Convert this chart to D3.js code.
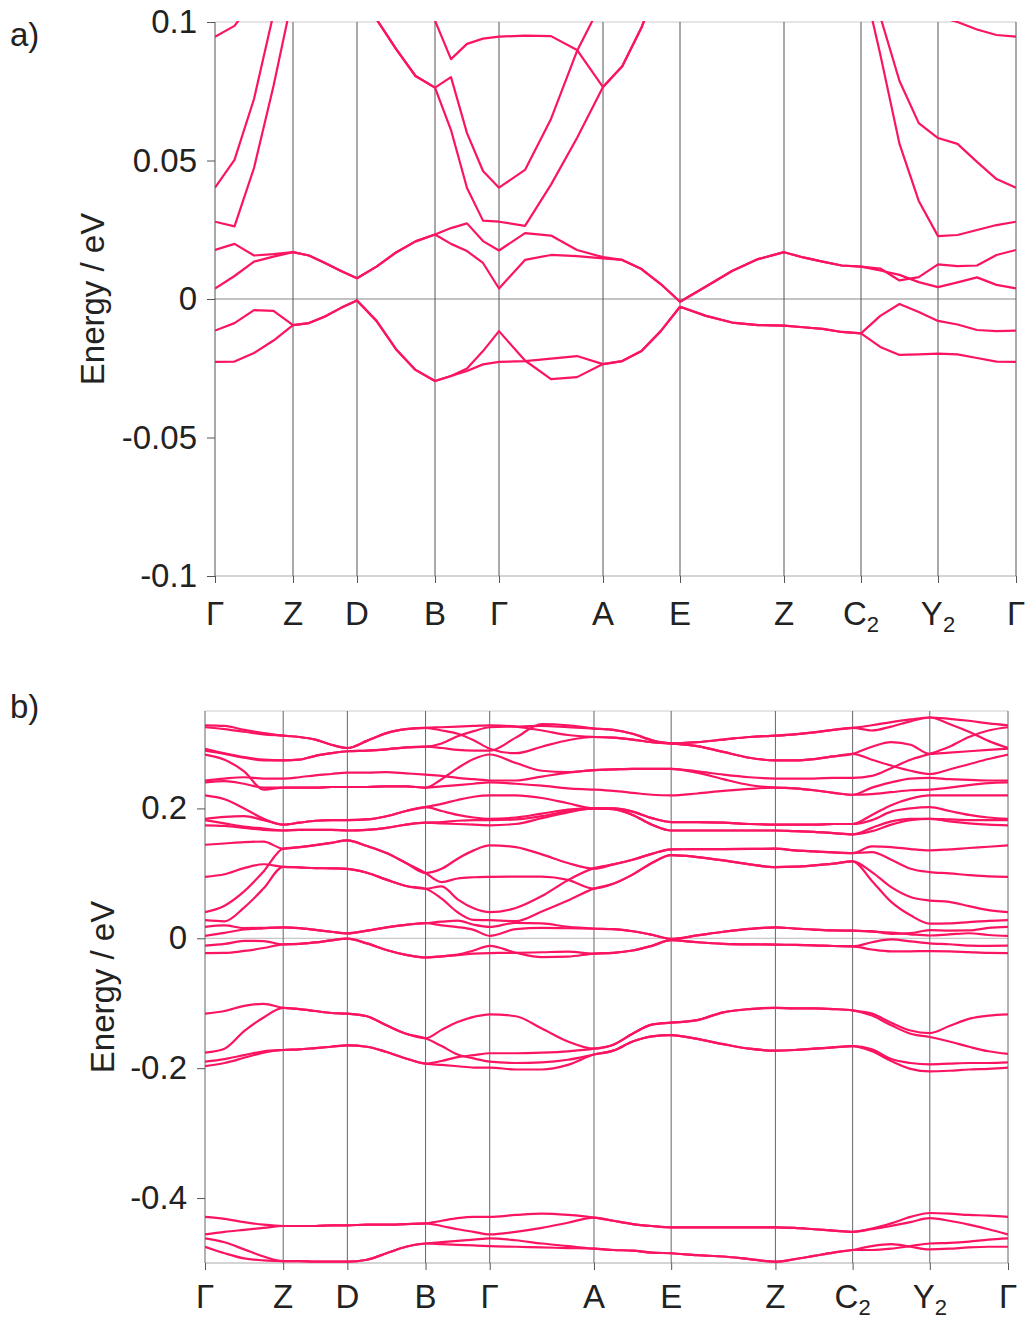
<!DOCTYPE html>
<html>
<head>
<meta charset="utf-8">
<script src="https://cdnjs.cloudflare.com/ajax/libs/d3/7.8.5/d3.min.js"></script>
<style>
body { margin: 0; background: #fff; }
text { font-family: "Liberation Sans", Arial, sans-serif; fill: #222; }
</style>
</head>
<body>
<svg id="chart" width="1025" height="1324"></svg>
<script>
// high-symmetry path
const kLabels = ['Γ', 'Z', 'D', 'B', 'Γ', 'A', 'E', 'Z', 'C2', 'Y2', 'Γ'];
const kTicks = [0, 0.78, 1.42, 2.20, 2.84, 3.88, 4.65, 5.69, 6.46, 7.23, 8.01];
// k sample points (4 per segment)
const kGrid = [0, 0.195, 0.39, 0.585, 0.78, 0.94, 1.10, 1.26, 1.42, 1.615, 1.81, 2.005, 2.20,
	2.36, 2.52, 2.68, 2.84, 3.10, 3.36, 3.62, 3.88, 4.0725, 4.265, 4.4575, 4.65, 4.91, 5.17, 5.43, 5.69,
	5.8825, 6.075, 6.2675, 6.46, 6.6525, 6.845, 7.0375, 7.23, 7.425, 7.62, 7.815, 8.01];

// band energies (eV) at kGrid
const l1 = [-0.429,-0.432,-0.437,-0.441,-0.443, -0.443,-0.443,-0.442,-0.442, -0.441,-0.441,-0.440,-0.439, -0.435,-0.431,-0.429,-0.429, -0.426,-0.424,-0.426,-0.430, -0.435,-0.440,-0.443,-0.445, -0.445,-0.445,-0.445,-0.445, -0.446,-0.448,-0.450,-0.452, -0.447,-0.439,-0.429,-0.423, -0.424,-0.426,-0.427,-0.429];
const l2 = [-0.456,-0.452,-0.449,-0.446,-0.443, -0.443,-0.443,-0.442,-0.442, -0.441,-0.441,-0.440,-0.439, -0.443,-0.448,-0.452,-0.456, -0.452,-0.446,-0.438,-0.430, -0.435,-0.440,-0.443,-0.445, -0.445,-0.445,-0.445,-0.445, -0.446,-0.448,-0.450,-0.452, -0.448,-0.443,-0.437,-0.431, -0.435,-0.441,-0.448,-0.456];
const l3 = [-0.462,-0.468,-0.479,-0.490,-0.497, -0.497,-0.498,-0.498,-0.498, -0.495,-0.485,-0.475,-0.470, -0.468,-0.466,-0.464,-0.462, -0.465,-0.470,-0.474,-0.478, -0.480,-0.481,-0.484,-0.485, -0.488,-0.490,-0.494,-0.498, -0.494,-0.489,-0.484,-0.480, -0.474,-0.471,-0.475,-0.479, -0.478,-0.476,-0.475,-0.475];
const l4 = [-0.475,-0.485,-0.493,-0.496,-0.497, -0.497,-0.498,-0.498,-0.498, -0.495,-0.485,-0.475,-0.470, -0.471,-0.472,-0.473,-0.474, -0.475,-0.476,-0.477,-0.478, -0.480,-0.481,-0.484,-0.485, -0.488,-0.490,-0.494,-0.498, -0.494,-0.489,-0.484,-0.480, -0.480,-0.478,-0.474,-0.470, -0.469,-0.467,-0.464,-0.462];

const m1 = [-0.116,-0.112,-0.104,-0.101,-0.107, -0.109,-0.112,-0.115,-0.116, -0.120,-0.134,-0.147,-0.154, -0.141,-0.129,-0.121,-0.117, -0.120,-0.139,-0.159,-0.170, -0.164,-0.147,-0.133,-0.130, -0.126,-0.114,-0.109,-0.107, -0.108,-0.108,-0.109,-0.111, -0.116,-0.130,-0.142,-0.146, -0.135,-0.124,-0.119,-0.117];
const m2 = [-0.176,-0.170,-0.143,-0.122,-0.107, -0.109,-0.112,-0.115,-0.116, -0.120,-0.134,-0.147,-0.154, -0.166,-0.179,-0.185,-0.190, -0.192,-0.191,-0.187,-0.179, -0.173,-0.159,-0.151,-0.149, -0.155,-0.163,-0.170,-0.173, -0.172,-0.170,-0.168,-0.166, -0.171,-0.186,-0.192,-0.194, -0.193,-0.192,-0.192,-0.191];
const m3 = [-0.190,-0.186,-0.180,-0.174,-0.172, -0.171,-0.169,-0.167,-0.165, -0.167,-0.175,-0.185,-0.193, -0.189,-0.183,-0.180,-0.177, -0.177,-0.176,-0.174,-0.170, -0.164,-0.147,-0.133,-0.130, -0.126,-0.114,-0.109,-0.107, -0.108,-0.108,-0.109,-0.111, -0.119,-0.134,-0.147,-0.152, -0.159,-0.167,-0.174,-0.178];
const m4 = [-0.197,-0.192,-0.184,-0.176,-0.172, -0.171,-0.169,-0.167,-0.165, -0.167,-0.175,-0.185,-0.193, -0.195,-0.197,-0.199,-0.199, -0.202,-0.202,-0.195,-0.179, -0.173,-0.159,-0.151,-0.149, -0.155,-0.163,-0.170,-0.173, -0.172,-0.170,-0.168,-0.166, -0.174,-0.189,-0.201,-0.205, -0.204,-0.202,-0.201,-0.199];

const vA = [-0.0114,-0.0087,-0.0040,-0.0043,-0.0094, -0.0087,-0.0063,-0.0032,-0.0005, -0.0079,-0.0181,-0.0256,-0.0296, -0.0278,-0.0251,-0.0188,-0.0116, -0.0222,-0.0289,-0.0282,-0.0235, -0.0224,-0.0188,-0.0116,-0.0028, -0.0061,-0.0085,-0.0094,-0.0096, -0.0102,-0.0108,-0.0119,-0.0124, -0.0061,-0.0018,-0.0047,-0.0079, -0.0092,-0.0112,-0.0116,-0.0114];
const vB = [-0.0227,-0.0226,-0.0195,-0.0150,-0.0094, -0.0087,-0.0063,-0.0032,-0.0005, -0.0079,-0.0181,-0.0256,-0.0296, -0.0278,-0.0260,-0.0236,-0.0227, -0.0224,-0.0215,-0.0206,-0.0235, -0.0224,-0.0188,-0.0116,-0.0028, -0.0061,-0.0085,-0.0094,-0.0096, -0.0102,-0.0108,-0.0119,-0.0124, -0.0173,-0.0202,-0.0200,-0.0197, -0.0200,-0.0213,-0.0226,-0.0227];
const cA = [0.0038,0.0083,0.0135,0.0153,0.0169, 0.0157,0.0130,0.0101,0.0075, 0.0117,0.0168,0.0208,0.0233, 0.0199,0.0173,0.0130,0.0038, 0.0141,0.0159,0.0155,0.0147, 0.0141,0.0108,0.0054,-0.0010, 0.0045,0.0101,0.0144,0.0169, 0.0150,0.0135,0.0121,0.0117, 0.0103,0.0087,0.0061,0.0043, 0.0060,0.0078,0.0051,0.0038];
const cB = [0.0177,0.0199,0.0157,0.0162,0.0169, 0.0157,0.0130,0.0101,0.0075, 0.0117,0.0168,0.0208,0.0233, 0.0256,0.0273,0.0209,0.0175, 0.0238,0.0229,0.0177,0.0151, 0.0141,0.0108,0.0054,-0.0010, 0.0045,0.0101,0.0144,0.0169, 0.0150,0.0135,0.0121,0.0117, 0.0110,0.0067,0.0079,0.0125, 0.0119,0.0121,0.0159,0.0177];
const cC = [0.0279,0.0262,0.0473,0.0769,0.110, 0.1092,0.108,0.1077,0.107, 0.101,0.0903,0.0805,0.0763, 0.0610,0.0401,0.0283,0.0279, 0.0264,0.0413,0.0581,0.0765, 0.084,0.098,0.116,0.128, 0.1251,0.120,0.1138,0.1097, 0.1103,0.1123,0.1149,0.1185, 0.102,0.0787,0.0635,0.0581, 0.0560,0.0495,0.0433,0.0402];
const cD = [0.0402,0.0502,0.0722,0.103,0.138, 0.1405,0.1436,0.147,0.1508, 0.142,0.1313,0.1159,0.1005, 0.0866,0.0921,0.0940,0.0947, 0.0951,0.0949,0.0899,0.0765, 0.084,0.098,0.116,0.128, 0.1251,0.120,0.1138,0.1097, 0.1103,0.1123,0.1149,0.1185, 0.0884,0.0560,0.0354,0.0227, 0.0231,0.0249,0.0267,0.0279];
const cE = [0.0947,0.0986,0.108,0.114,0.110, 0.1092,0.108,0.1077,0.107, 0.101,0.0903,0.0805,0.0763, 0.0801,0.0599,0.0462,0.0402, 0.0466,0.065,0.0895,0.108, 0.1138,0.121,0.130,0.137, 0.1372,0.1374,0.1377,0.138, 0.1354,0.1338,0.1323,0.1313, 0.1415,0.1405,0.1374,0.1354, 0.1369,0.139,0.141,0.1431];
const cF = [0.144,0.146,0.148,0.149,0.138, 0.1405,0.1436,0.147,0.1508, 0.142,0.1313,0.1159,0.1005, 0.107,0.1226,0.1354,0.1431, 0.1405,0.1292,0.1159,0.1072, 0.1138,0.121,0.130,0.137, 0.1372,0.1374,0.1377,0.138, 0.1354,0.1338,0.1323,0.1313, 0.1328,0.121,0.1072,0.102, 0.100,0.0973,0.0953,0.0947];

const u1 = [0.328,0.327,0.321,0.316,0.312, 0.310,0.306,0.298,0.293, 0.304,0.316,0.322,0.324, 0.325,0.326,0.327,0.328, 0.326,0.320,0.313,0.310, 0.309,0.306,0.302,0.300, 0.302,0.306,0.310,0.312, 0.314,0.317,0.321,0.324, 0.328,0.333,0.337,0.340, 0.338,0.335,0.331,0.328];
const u2 = [0.325,0.322,0.318,0.314,0.312, 0.310,0.306,0.298,0.293, 0.304,0.316,0.322,0.324, 0.320,0.315,0.305,0.292, 0.285,0.295,0.305,0.310, 0.309,0.306,0.302,0.300, 0.296,0.287,0.278,0.274, 0.274,0.276,0.280,0.284, 0.295,0.302,0.298,0.284, 0.286,0.288,0.290,0.292];
const u3 = [0.292,0.285,0.279,0.275,0.274, 0.275,0.281,0.285,0.288, 0.289,0.291,0.294,0.295, 0.300,0.311,0.319,0.325, 0.326,0.327,0.325,0.323, 0.321,0.315,0.305,0.300, 0.302,0.306,0.310,0.312, 0.314,0.317,0.321,0.324, 0.320,0.326,0.334,0.340, 0.330,0.318,0.304,0.293];
const u4 = [0.289,0.284,0.278,0.274,0.274, 0.275,0.281,0.285,0.288, 0.289,0.291,0.294,0.295, 0.293,0.290,0.289,0.289, 0.309,0.330,0.328,0.323, 0.321,0.315,0.305,0.300, 0.296,0.287,0.278,0.274, 0.274,0.276,0.280,0.284, 0.275,0.266,0.258,0.253, 0.260,0.268,0.276,0.283];
const u5 = [0.283,0.275,0.257,0.229,0.232, 0.232,0.232,0.233,0.233, 0.233,0.234,0.234,0.232, 0.245,0.262,0.276,0.283, 0.270,0.258,0.256,0.259, 0.260,0.261,0.261,0.261, 0.257,0.252,0.248,0.246, 0.246,0.246,0.247,0.247, 0.250,0.262,0.275,0.284, 0.295,0.310,0.320,0.325];
const u6 = [0.243,0.246,0.248,0.246,0.246, 0.248,0.251,0.253,0.255, 0.255,0.256,0.254,0.252, 0.250,0.247,0.245,0.243, 0.243,0.249,0.255,0.259, 0.260,0.261,0.261,0.261, 0.255,0.245,0.236,0.232, 0.231,0.228,0.224,0.221, 0.232,0.240,0.246,0.247, 0.245,0.244,0.243,0.243];
const u7 = [0.240,0.242,0.238,0.232,0.232, 0.232,0.232,0.233,0.233, 0.233,0.234,0.234,0.232, 0.234,0.236,0.238,0.240, 0.238,0.235,0.231,0.229, 0.227,0.224,0.221,0.220, 0.223,0.227,0.230,0.232, 0.231,0.228,0.224,0.221, 0.222,0.225,0.228,0.229, 0.232,0.236,0.239,0.240];
const u8 = [0.220,0.214,0.200,0.184,0.175, 0.178,0.181,0.182,0.182, 0.183,0.188,0.196,0.202, 0.207,0.213,0.218,0.220, 0.220,0.216,0.208,0.200, 0.200,0.195,0.185,0.179, 0.179,0.178,0.176,0.175, 0.175,0.175,0.176,0.176, 0.190,0.205,0.215,0.220, 0.220,0.220,0.220,0.220];
const u9 = [0.184,0.187,0.188,0.182,0.175, 0.178,0.181,0.182,0.182, 0.183,0.188,0.196,0.202, 0.196,0.190,0.186,0.184, 0.186,0.192,0.198,0.200, 0.200,0.195,0.185,0.179, 0.179,0.178,0.176,0.175, 0.175,0.175,0.176,0.176, 0.182,0.195,0.200,0.202, 0.196,0.190,0.186,0.184];
const u10 = [0.182,0.177,0.172,0.169,0.166, 0.167,0.167,0.167,0.166, 0.167,0.170,0.175,0.178, 0.179,0.181,0.182,0.182, 0.183,0.188,0.196,0.200, 0.199,0.190,0.175,0.166, 0.166,0.166,0.166,0.166, 0.165,0.164,0.162,0.160, 0.170,0.180,0.184,0.184, 0.183,0.182,0.182,0.182];
const u11 = [0.174,0.173,0.170,0.167,0.166, 0.167,0.167,0.167,0.166, 0.167,0.170,0.175,0.178, 0.177,0.176,0.175,0.174, 0.176,0.185,0.194,0.200, 0.199,0.190,0.175,0.166, 0.166,0.166,0.166,0.166, 0.165,0.164,0.162,0.160, 0.165,0.175,0.182,0.184, 0.180,0.177,0.175,0.174];

const bands = [l1, l2, l3, l4, m1, m2, m3, m4, vA, vB, cA, cB, cC, cD, cE, cF,
	u1, u2, u3, u4, u5, u6, u7, u8, u9, u10, u11];

const ticksA = [-0.1, -0.05, 0, 0.05, 0.1];
const ticksB = [-0.4, -0.2, 0, 0.2];

const bandColor = '#fb1460';
const svg = d3.select('#chart');

svg.append('text').attr('x', 10).attr('y', 46).style('font-size', '33px').text('a)');
svg.append('text').attr('x', 10).attr('y', 718).style('font-size', '33px').text('b)');

drawPanel({ id: 'a', left: 215, right: 1016, top: 22, bottom: 576, domain: [-0.1, 0.1], ticks: ticksA,
	labelY: 625, titleX: 104, curve: d3.curveLinear, zeroColor: '#888', vColor: '#555' });
drawPanel({ id: 'b', left: 205, right: 1008, top: 711, bottom: 1263, domain: [-0.5, 0.35], ticks: ticksB,
	labelY: 1308, titleX: 114, curve: d3.curveMonotoneX, zeroColor: '#c8c8c8', vColor: '#666' });

function drawPanel(p) {
	var x = d3.scaleLinear().domain([0, kTicks[kTicks.length - 1]]).range([p.left, p.right]);
	var y = d3.scaleLinear().domain(p.domain).range([p.bottom, p.top]);
	var g = svg.append('g');

	svg.append('clipPath').attr('id', 'clip-' + p.id)
		.append('rect')
		.attr('x', p.left).attr('y', p.top - 1)
		.attr('width', p.right - p.left).attr('height', p.bottom - p.top + 2);

	// top line and zero line
	g.append('line')
		.attr('x1', p.left).attr('x2', p.right)
		.attr('y1', y(p.domain[1])).attr('y2', y(p.domain[1]))
		.attr('stroke', '#dcdcdc').attr('stroke-width', 1.5);
	g.append('line')
		.attr('x1', p.left).attr('x2', p.right)
		.attr('y1', y(0)).attr('y2', y(0))
		.attr('stroke', p.zeroColor).attr('stroke-width', 1.2);
	g.append('line')
		.attr('x1', p.left).attr('x2', p.right)
		.attr('y1', p.bottom).attr('y2', p.bottom)
		.attr('stroke', '#aaa').attr('stroke-width', 1);

	// vertical lines at high-symmetry points
	g.append('g')
		.selectAll('line')
		.data(kTicks)
		.enter()
		.append('line')
		.attr('x1', d => x(d)).attr('x2', d => x(d))
		.attr('y1', p.top).attr('y2', p.bottom)
		.attr('stroke', p.vColor).attr('stroke-width', 1);

	// bands
	var line = d3.line()
		.x((d, i) => x(kGrid[i]))
		.y(d => y(d))
		.curve(p.curve);
	g.append('g')
		.attr('clip-path', 'url(#clip-' + p.id + ')')
		.selectAll('path')
		.data(bands)
		.enter()
		.append('path')
		.attr('d', line)
		.attr('fill', 'none')
		.attr('stroke', bandColor)
		.attr('stroke-width', 2.2)
		.attr('stroke-linejoin', 'round');

	// y axis
	var yAxis = g.append('g')
		.attr('transform', `translate(${p.left},0)`)
		.call(d3.axisLeft(y).tickValues(p.ticks).tickSize(8).tickPadding(10).tickFormat(d => String(d)));
	yAxis.select('.domain').remove();
	yAxis.selectAll('line').attr('stroke', '#555');
	yAxis.selectAll('text')
		.style('font-size', '33px')
		.style('font-family', '"Liberation Sans", Arial, sans-serif')
		.attr('fill', '#222');

	// x axis
	var xAxis = g.append('g')
		.attr('transform', `translate(0,${p.bottom})`)
		.call(d3.axisBottom(x).tickValues(kTicks).tickSize(7).tickFormat(''));
	xAxis.select('.domain').remove();
	xAxis.selectAll('line').attr('stroke', '#555');

	var labels = g.append('g')
		.selectAll('text')
		.data(kLabels)
		.enter()
		.append('text')
		.attr('x', (d, i) => x(kTicks[i]))
		.attr('y', p.labelY)
		.attr('text-anchor', 'middle')
		.style('font-size', '33px');
	labels.append('tspan').text(d => d[0]);
	labels.filter(d => d.length > 1)
		.append('tspan')
		.attr('dy', 7)
		.style('font-size', '22px')
		.text(d => d.slice(1));

	svg.append('text')
		.attr('transform', `translate(${p.titleX},${(p.top + p.bottom) / 2}) rotate(-90)`)
		.attr('text-anchor', 'middle')
		.style('font-size', '33px')
		.text('Energy / eV');
}
</script>
</body>
</html>
